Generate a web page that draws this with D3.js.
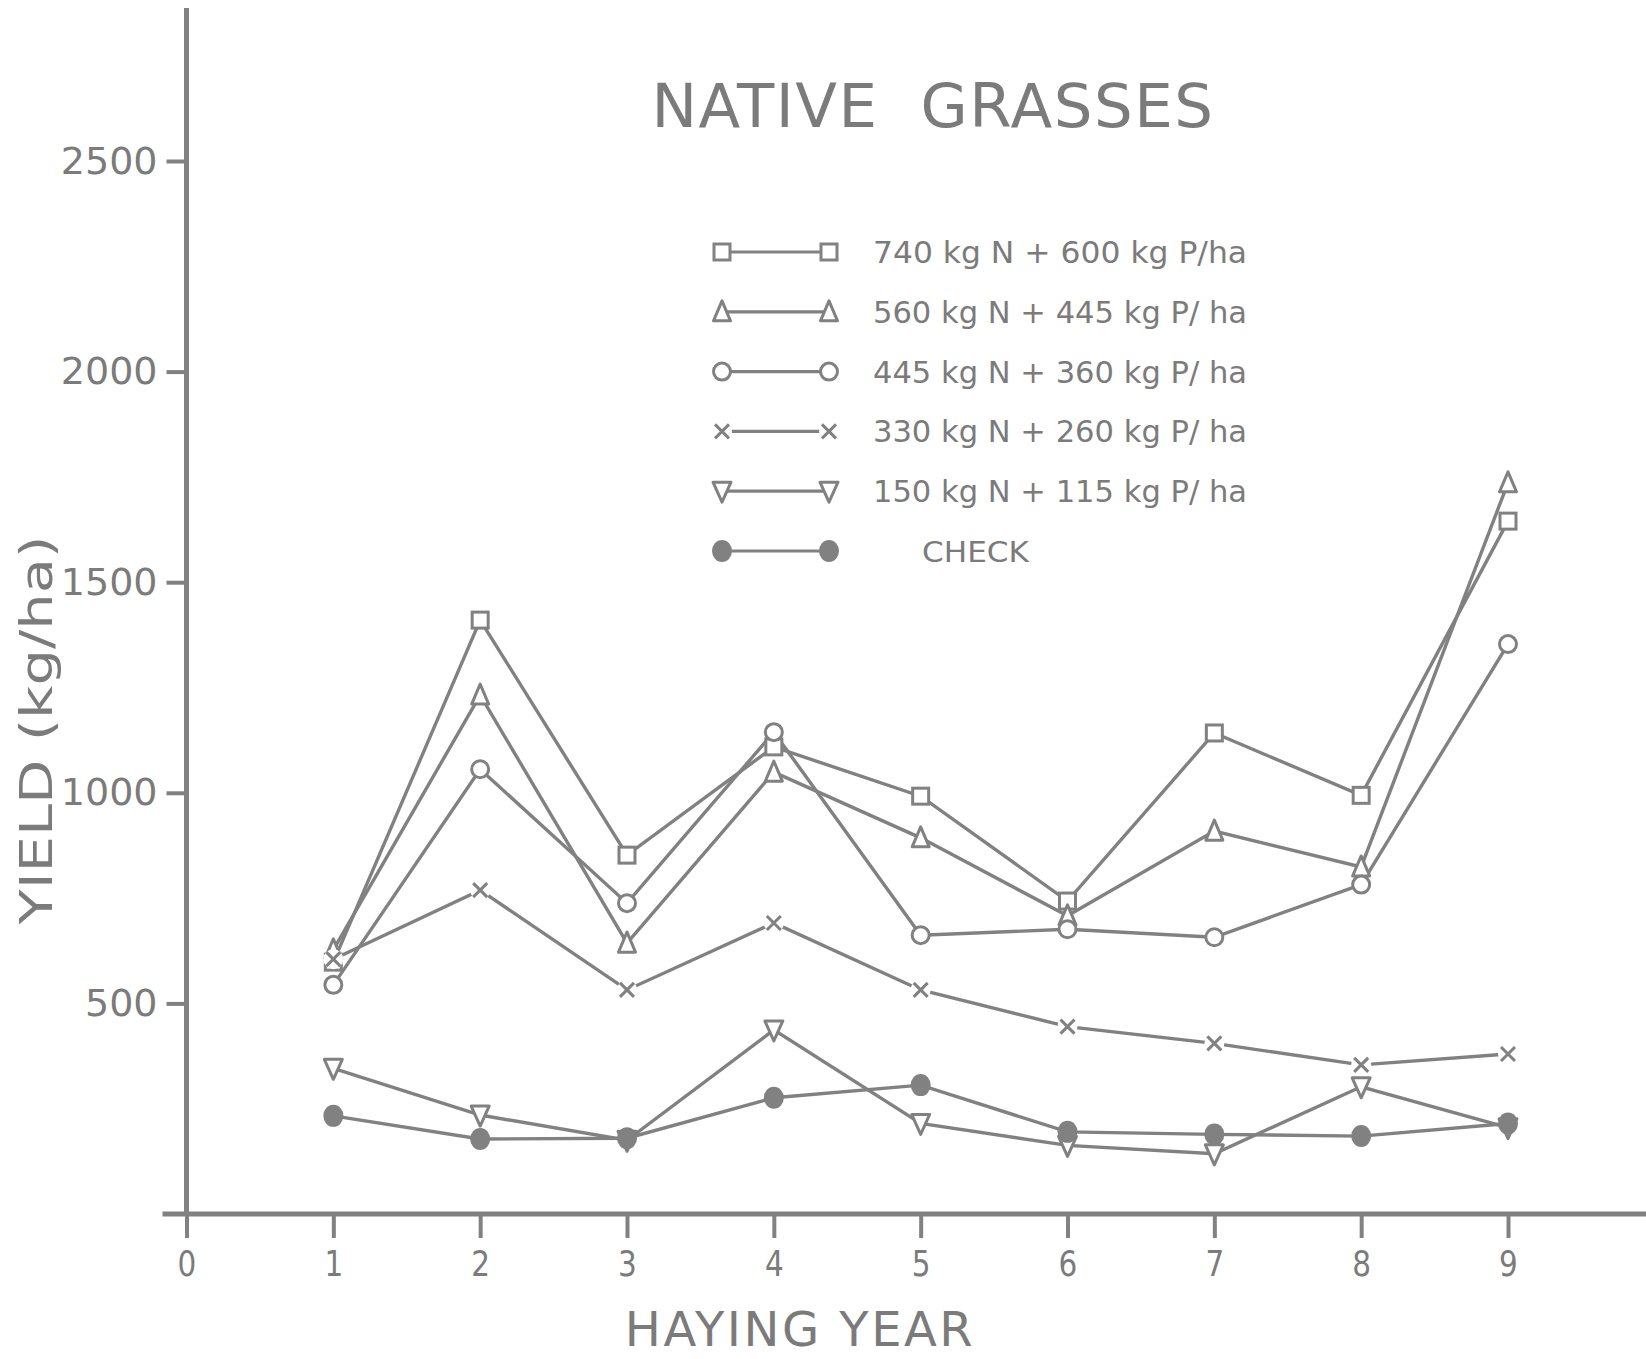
<!DOCTYPE html>
<html>
<head>
<meta charset="utf-8">
<script src="https://cdn.jsdelivr.net/npm/d3@7"></script>
<style>
  body { margin: 0; background: #fff; }
  svg text { font-family: 'DejaVu Sans', 'Noto Sans', sans-serif; fill: #7b7b7b; }
</style>
</head>
<body>
<div id="chart"></div>
<script>
// haying years and axis ticks
const years = [1, 2, 3, 4, 5, 6, 7, 8, 9];
const xTicks = [0, 1, 2, 3, 4, 5, 6, 7, 8, 9];
const yTicks = [500, 1000, 1500, 2000, 2500];

// yield (kg/ha) per treatment
const n740 = [598, 1410, 852, 1109, 992, 743, 1142, 994, 1645];
const n560 = [627, 1232, 643, 1049, 893, 708, 909, 824, 1736];
const n445 = [544, 1056, 738, 1144, 662, 676, 657, 782, 1353];
const n330 = [605, 769, 532, 691, 532, 445, 405, 354, 380];
const n150 = [346, 235, 175, 437, 215, 163, 143, 302, 205];
const check = [233, 178, 180, 276, 306, 195, 189, 185, 215];

const legendLabels = [
  '740 kg N + 600 kg P/ha',
  '560 kg N + 445 kg P/ ha',
  '445 kg N + 360 kg P/ ha',
  '330 kg N + 260 kg P/ ha',
  '150 kg N + 115 kg P/ ha',
  'CHECK'
];
const markerTypes = ['square', 'triangle', 'circle', 'cross', 'triangleDown', 'dot'];

const width = 1646,
  height = 1359;
const grey = '#818181';

const series = [n740, n560, n445, n330, n150, check].map((values, i) => ({
  values: values,
  marker: markerTypes[i],
  label: legendLabels[i]
}));

const svg = d3
  .select('#chart')
  .append('svg')
  .attr('width', width)
  .attr('height', height);

const x = d3.scaleLinear().domain([0, 9]).range([186.5, 1508]);
const y = d3.scaleLinear().domain([0, 2500]).range([1214, 161]);

// y axis
svg
  .append('g')
  .attr('transform', `translate(${x(0)},0)`)
  .call(
    d3
      .axisLeft(y)
      .tickValues(yTicks)
      .tickSize(20)
      .tickPadding(9)
      .tickFormat(d3.format('d'))
  )
  .call(g => g.select('.domain').remove())
  .call(g =>
    g
      .selectAll('.tick line')
      .attr('stroke', grey)
      .attr('stroke-width', 4)
  )
  .call(g =>
    g
      .selectAll('.tick text')
      .attr('font-size', 38)
      .attr('font-family', null)
      .attr('fill', null)
  );

// x axis
svg
  .append('g')
  .attr('transform', `translate(0,${y(0)})`)
  .call(
    d3
      .axisBottom(x)
      .tickValues(xTicks)
      .tickSize(24)
      .tickPadding(12)
      .tickFormat(d3.format('d'))
  )
  .call(g => g.select('.domain').remove())
  .call(g =>
    g
      .selectAll('.tick line')
      .attr('stroke', grey)
      .attr('stroke-width', 4)
  )
  .call(g =>
    g
      .selectAll('.tick text')
      .attr('font-size', 36)
      .attr('font-family', null)
      .attr('fill', null)
      .attr('transform', 'scale(0.82,1)')
      .attr('x', 0)
  );

// axis lines (the y axis runs up to the top of the sheet)
svg
  .append('line')
  .attr('x1', x(0))
  .attr('x2', x(0))
  .attr('y1', 8)
  .attr('y2', y(0))
  .attr('stroke', grey)
  .attr('stroke-width', 5);

svg
  .append('line')
  .attr('x1', x(0) - 24)
  .attr('x2', width)
  .attr('y1', y(0))
  .attr('y2', y(0))
  .attr('stroke', grey)
  .attr('stroke-width', 5);

// marker shapes
function drawMarker(g, type, cx, cy) {
  const m = g.append('g').attr('transform', `translate(${cx},${cy})`);
  if (type === 'square') {
    m.append('rect')
      .attr('x', -8)
      .attr('y', -8)
      .attr('width', 16)
      .attr('height', 16)
      .attr('fill', '#fff')
      .attr('stroke', grey)
      .attr('stroke-width', 3);
  } else if (type === 'triangle') {
    m.append('path')
      .attr('d', 'M0,-11L8.5,9H-8.5Z')
      .attr('fill', '#fff')
      .attr('stroke', grey)
      .attr('stroke-width', 3)
      .attr('stroke-linejoin', 'round');
  } else if (type === 'triangleDown') {
    m.append('path')
      .attr('d', 'M0,11L9,-9H-9Z')
      .attr('fill', '#fff')
      .attr('stroke', grey)
      .attr('stroke-width', 3)
      .attr('stroke-linejoin', 'round');
  } else if (type === 'circle') {
    m.append('circle')
      .attr('r', 8.5)
      .attr('fill', '#fff')
      .attr('stroke', grey)
      .attr('stroke-width', 3);
  } else if (type === 'cross') {
    m.append('circle').attr('r', 10).attr('fill', '#fff');
    m.append('path')
      .attr('d', 'M-7,-7L7,7M-7,7L7,-7')
      .attr('fill', 'none')
      .attr('stroke', grey)
      .attr('stroke-width', 3);
  } else if (type === 'dot') {
    m.append('ellipse')
      .attr('rx', 10)
      .attr('ry', 11)
      .attr('fill', grey);
  }
}

const line = d3
  .line()
  .x((d, i) => x(years[i]))
  .y(d => y(d));

const plot = svg.append('g');

series.forEach(s => {
  plot
    .append('path')
    .datum(s.values)
    .attr('d', line)
    .attr('fill', 'none')
    .attr('stroke', grey)
    .attr('stroke-width', 3.4);
});

series.forEach(s => {
  s.values.forEach((v, i) => drawMarker(plot, s.marker, x(years[i]), y(v)));
});

// legend
const legend = svg.append('g');
series.forEach((s, i) => {
  const ly = 252 + i * 59.8;
  legend
    .append('line')
    .attr('x1', 722)
    .attr('x2', 829)
    .attr('y1', ly)
    .attr('y2', ly)
    .attr('stroke', grey)
    .attr('stroke-width', 3.2);
  drawMarker(legend, s.marker, 722, ly);
  drawMarker(legend, s.marker, 829, ly);

  if (s.marker === 'dot') {
    legend
      .append('text')
      .attr('x', 922)
      .attr('y', ly + 11)
      .attr('font-size', 29)
      .attr('textLength', 107)
      .attr('lengthAdjust', 'spacingAndGlyphs')
      .text(s.label);
  } else {
    legend
      .append('text')
      .attr('x', 873)
      .attr('y', ly + 11)
      .attr('font-size', 30)
      .attr('textLength', 374)
      .attr('lengthAdjust', 'spacingAndGlyphs')
      .text(s.label);
  }
});

// titles
svg
  .append('text')
  .attr('x', 933)
  .attr('y', 127)
  .attr('text-anchor', 'middle')
  .attr('font-size', 61)
  .attr('letter-spacing', 1.5)
  .style('white-space', 'pre')
  .text('NATIVE  GRASSES');

svg
  .append('text')
  .attr('x', 800)
  .attr('y', 1346)
  .attr('text-anchor', 'middle')
  .attr('font-size', 48)
  .attr('letter-spacing', 2.5)
  .text('HAYING YEAR');

svg
  .append('text')
  .attr('transform', 'translate(52,730) rotate(-90)')
  .attr('text-anchor', 'middle')
  .attr('font-size', 45)
  .attr('textLength', 389)
  .attr('lengthAdjust', 'spacingAndGlyphs')
  .text('YIELD (kg/ha)');
</script>
</body>
</html>
